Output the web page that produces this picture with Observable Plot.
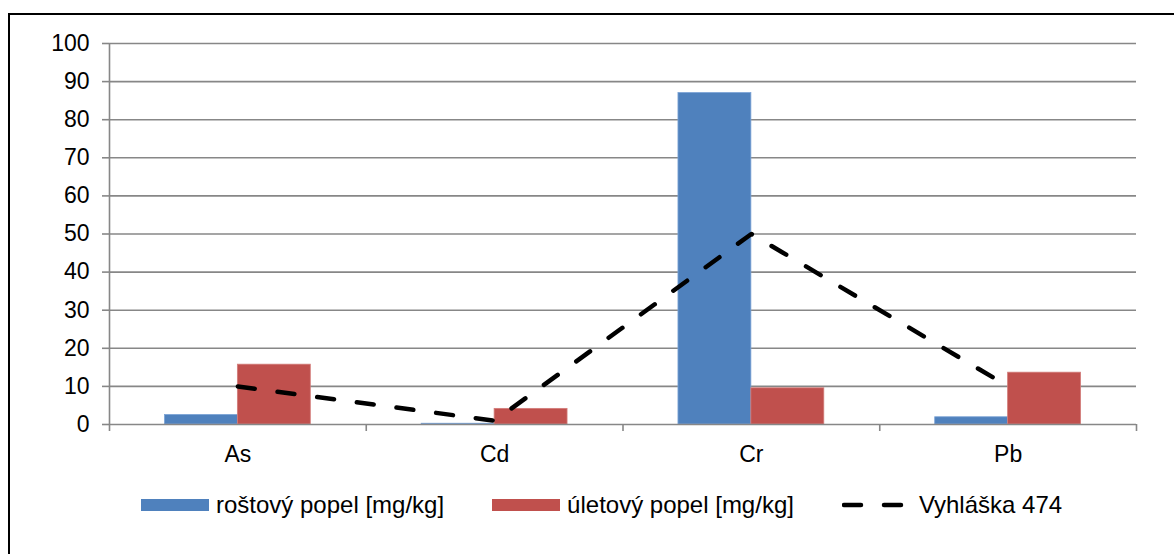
<!DOCTYPE html>
<html>
<head>
<meta charset="utf-8">
<script src="https://cdn.jsdelivr.net/npm/d3@7"></script>
<script src="https://cdn.jsdelivr.net/npm/@observablehq/plot@0.6"></script>
<style>
  body { margin: 0; background: #fff; font-family: "Liberation Sans", Arial, sans-serif; }
  #wrap { position: relative; width: 1174px; height: 554px; overflow: hidden; background: #fff; }
  #frame { position: absolute; left: 8px; top: 13px; width: 1200px; height: 600px;
           border-left: 2px solid #000; border-top: 2px solid #000; }
  #chart { position: absolute; left: 0; top: 0; }
  #legend { position: absolute; left: 141px; top: 491px; display: flex; align-items: center;
            font-size: 24px; color: #000; white-space: nowrap; }
  .item { display: flex; align-items: center; margin-right: 48px; }
  .sw { width: 68px; height: 12px; margin-right: 7px; }
  .ln { margin-right: 15px; }
</style>
</head>
<body>
<div id="wrap">
  <div id="frame"></div>
  <div id="chart"></div>
  <div id="legend"></div>
</div>
<script>
// Heavy metal content in ash samples vs. the legal limit (Vyhláška 474)
const elements = ["As", "Cd", "Cr", "Pb"];
const grateAsh = [2.5, 0.2, 87, 1.9];      // roštový popel [mg/kg]
const flyAsh = [15.7, 4.1, 9.5, 13.6];     // úletový popel [mg/kg]
const decreeLimit = [10, 1, 50, 10];       // Vyhláška 474
const yTicks = [0, 10, 20, 30, 40, 50, 60, 70, 80, 90, 100];
const seriesNames = ["roštový popel [mg/kg]", "úletový popel [mg/kg]", "Vyhláška 474"];
const colors = ["#4F81BD", "#C0504D", "#000000"];
const edges = ["#7BA3D6", "#D27C79"];

const grid = "#878787";
const half = 0.284; // width of one bar in category units

const rows = elements.map((el, i) => ({
  el, i, grate: grateAsh[i], fly: flyAsh[i], limit: decreeLimit[i]
}));

const chart = Plot.plot({
  width: 1174,
  height: 480,
  marginLeft: 109,
  marginRight: 38,
  marginTop: 43,
  marginBottom: 56,
  style: { fontFamily: "Liberation Sans, Arial, sans-serif", background: "transparent", overflow: "visible" },
  x: { type: "linear", domain: [0, elements.length] },
  y: { domain: [0, 100] },
  marks: [
    Plot.ruleY(yTicks.slice(1), { stroke: grid, strokeWidth: 1.6 }),
    Plot.rectY(rows, {
      x1: d => d.i + 0.5 - half, x2: d => d.i + 0.5, y1: 0, y2: "grate",
      fill: colors[0], stroke: edges[0], strokeWidth: 0.8
    }),
    Plot.rectY(rows, {
      x1: d => d.i + 0.5, x2: d => d.i + 0.5 + half, y1: 0, y2: "fly",
      fill: colors[1], stroke: edges[1], strokeWidth: 0.8
    }),
    Plot.ruleX([0], { y1: 0, y2: 100, stroke: grid, strokeWidth: 1.6 }),
    Plot.ruleY([0], { stroke: grid, strokeWidth: 1.6 }),
    Plot.axisY({
      ticks: yTicks, tickSize: 7, tickPadding: 13, stroke: grid, strokeWidth: 1.6,
      fontSize: 23, fill: "#000", label: null
    }),
    Plot.axisX({
      ticks: d3.range(0, elements.length + 1), tickSize: 7, stroke: grid, strokeWidth: 1.6,
      tickFormat: () => "", label: null
    }),
    Plot.axisX({
      ticks: elements.map((_, i) => i + 0.5), tickSize: 0, tickPadding: 21,
      tickFormat: d => elements[Math.round(d - 0.5)], fontSize: 23, fill: "#000", label: null
    }),
    Plot.line(rows, {
      x: d => d.i + 0.5, y: "limit", stroke: colors[2], strokeWidth: 4.5,
      strokeDasharray: "17,23", strokeLinecap: "round"
    })
  ]
});
document.getElementById("chart").append(chart);

// Legend
const legend = document.getElementById("legend");
seriesNames.forEach((name, k) => {
  const item = document.createElement("div");
  item.className = "item";
  if (k < 2) {
    const sw = document.createElement("div");
    sw.className = "sw";
    sw.style.background = colors[k];
    item.append(sw);
  } else {
    const ns = "http://www.w3.org/2000/svg";
    const svg = document.createElementNS(ns, "svg");
    svg.setAttribute("width", 62);
    svg.setAttribute("height", 12);
    svg.setAttribute("class", "ln");
    const l = document.createElementNS(ns, "line");
    l.setAttribute("x1", 2); l.setAttribute("x2", 60);
    l.setAttribute("y1", 6); l.setAttribute("y2", 6);
    l.setAttribute("stroke", colors[2]);
    l.setAttribute("stroke-width", 4.5);
    l.setAttribute("stroke-dasharray", "17,23");
    l.setAttribute("stroke-linecap", "round");
    svg.append(l);
    item.append(svg);
  }
  const t = document.createElement("span");
  t.textContent = name;
  item.append(t);
  legend.append(item);
});
</script>
</body>
</html>
